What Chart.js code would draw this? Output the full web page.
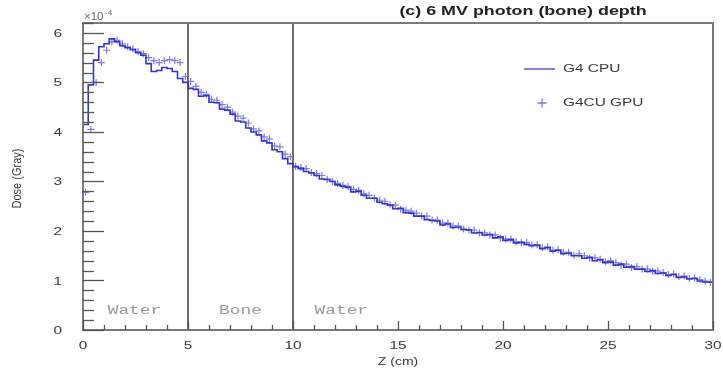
<!DOCTYPE html>
<html lang="en">
<head>
  <meta charset="UTF-8" />
  <title>6 MV photon (bone) depth dose</title>
  <script src="https://cdn.jsdelivr.net/npm/chart.js"></script>
  <style>
    html, body { margin: 0; padding: 0; background: #fff; }
    #wrap { width: 723px; height: 370px; }
  </style>
</head>
<body>
  <div id="wrap"><canvas id="doseChart" width="723" height="370"></canvas></div>

  <script>
    // depth bins (cm) and dose in units of 1e-4 Gy
    const binWidth = 0.25;
    const slabEdges = [5, 10];
    const slabNames = ['Water', 'Bone', 'Water'];
    const slabLabelZ = [2.45, 7.5, 12.3];
    const xTicks = [0, 5, 10, 15, 20, 25, 30];
    const yTicks = [0, 1, 2, 3, 4, 5, 6];

    const cpuDose = [
      2.75, 4.15, 4.95, 5.45, 5.72, 5.78, 5.88, 5.82, 5.74, 5.70, 5.66, 5.60, 5.55, 5.38, 5.22, 5.24, 5.30, 5.28, 5.22, 5.08,
      5.00, 4.88, 4.86, 4.72, 4.73, 4.60, 4.59, 4.46, 4.44, 4.36, 4.22, 4.20, 4.08, 4.00, 3.94, 3.82, 3.78, 3.64, 3.60, 3.46,
      3.36, 3.30, 3.26, 3.20, 3.17, 3.12, 3.05, 3.04, 3.00, 2.93, 2.90, 2.88, 2.79, 2.80, 2.72, 2.66, 2.66, 2.58, 2.55, 2.52,
      2.45, 2.46, 2.37, 2.36, 2.30, 2.30, 2.23, 2.21, 2.20, 2.12, 2.14, 2.07, 2.08, 2.03, 2.02, 1.96, 1.97, 1.92, 1.93, 1.86,
      1.88, 1.81, 1.82, 1.76, 1.77, 1.73, 1.70, 1.71, 1.64, 1.66, 1.59, 1.61, 1.54, 1.55, 1.50, 1.50, 1.45, 1.47, 1.40, 1.42,
      1.36, 1.37, 1.31, 1.33, 1.27, 1.28, 1.23, 1.23, 1.18, 1.20, 1.14, 1.15, 1.10, 1.12, 1.06, 1.07, 1.03, 1.04, 0.99, 0.97
    ];
    const gpuDose = [
      2.78, 4.05, 5.00, 5.40, 5.65, 5.82, 5.85, 5.78, 5.72, 5.68, 5.62, 5.58, 5.50, 5.44, 5.40, 5.44, 5.46, 5.44, 5.40, 5.12,
      5.02, 4.92, 4.80, 4.76, 4.66, 4.64, 4.55, 4.50, 4.40, 4.32, 4.28, 4.18, 4.06, 4.02, 3.90, 3.86, 3.72, 3.70, 3.55, 3.50,
      3.30, 3.28, 3.26, 3.18, 3.16, 3.12, 3.04, 3.00, 2.96, 2.92, 2.90, 2.84, 2.82, 2.75, 2.72, 2.66, 2.62, 2.60, 2.53, 2.52,
      2.44, 2.42, 2.40, 2.36, 2.30, 2.30, 2.22, 2.22, 2.16, 2.16, 2.10, 2.10, 2.04, 2.02, 2.02, 1.96, 1.96, 1.92, 1.92, 1.86,
      1.84, 1.84, 1.78, 1.76, 1.77, 1.72, 1.72, 1.66, 1.68, 1.61, 1.62, 1.57, 1.57, 1.51, 1.54, 1.50, 1.45, 1.46, 1.43, 1.38,
      1.40, 1.36, 1.31, 1.33, 1.26, 1.28, 1.23, 1.23, 1.18, 1.19, 1.16, 1.12, 1.13, 1.08, 1.09, 1.04, 1.05, 1.02, 0.99, 0.96
    ];

    const cpuPoints = cpuDose.map((d, i) => ({ x: i * binWidth, y: d }));
    cpuPoints.push({ x: cpuDose.length * binWidth, y: cpuDose[cpuDose.length - 1] });
    const gpuPoints = gpuDose.map((d, i) => ({ x: (i + 0.5) * binWidth, y: d }));

    const sans = '"Liberation Sans", Arial, sans-serif';
    const textColor = '#3a3a3a';
    const stretch = 1.4; // the original figure is widened horizontally

    function wideText(ctx, text, x, y, align, sx) {
      ctx.save();
      ctx.translate(x, y);
      ctx.scale(sx, 1);
      ctx.textAlign = align;
      ctx.fillText(text, 0, 0);
      ctx.restore();
    }

    // ROOT-like decorations: frame, inside ticks, slab lines, labels, legend
    const rootStyle = {
      id: 'rootStyle',
      beforeDatasetsDraw(chart) {
        const { ctx, chartArea: a, scales: { x } } = chart;
        ctx.save();
        ctx.strokeStyle = '#6e6e6e';
        ctx.lineWidth = 2;
        slabEdges.forEach(z => {
          const px = Math.round(x.getPixelForValue(z));
          ctx.beginPath();
          ctx.moveTo(px, a.top);
          ctx.lineTo(px, a.bottom);
          ctx.stroke();
        });
        ctx.fillStyle = '#9a9a9a';
        ctx.font = '13px "Liberation Mono", "DejaVu Sans Mono", monospace';
        ctx.textBaseline = 'middle';
        slabNames.forEach((n, i) => {
          wideText(ctx, n, x.getPixelForValue(slabLabelZ[i]), a.bottom - 19, 'center', 1.37);
        });
        ctx.restore();
      },
      afterDraw(chart) {
        const { ctx, chartArea: a, scales: { x, y } } = chart;
        ctx.save();
        // frame
        ctx.strokeStyle = '#7a7a7a';
        ctx.lineWidth = 2;
        ctx.strokeRect(a.left, a.top, a.right - a.left, a.bottom - a.top);

        // y ticks (inside)
        ctx.lineWidth = 1.3;
        ctx.strokeStyle = '#555';
        for (let v = 0; v <= 6.2 + 1e-9; v += 0.2) {
          const py = Math.round(y.getPixelForValue(v)) + 0.5;
          const major = Math.abs(v - Math.round(v)) < 1e-6;
          ctx.beginPath();
          ctx.moveTo(a.left, py);
          ctx.lineTo(a.left + (major ? 21 : 11), py);
          ctx.stroke();
        }
        // x ticks (inside)
        for (let v = 0; v <= 30; v += 1) {
          const px = Math.round(x.getPixelForValue(v)) + 0.5;
          const major = v % 5 === 0;
          ctx.beginPath();
          ctx.moveTo(px, a.bottom);
          ctx.lineTo(px, a.bottom - (major ? 9 : 5));
          ctx.stroke();
        }

        // tick labels
        ctx.fillStyle = textColor;
        ctx.font = '11px ' + sans;
        ctx.textBaseline = 'middle';
        yTicks.forEach(v => wideText(ctx, String(v), 62, y.getPixelForValue(v) + 1, 'right', stretch));
        xTicks.forEach(v => wideText(ctx, String(v), x.getPixelForValue(v), 346, 'center', stretch));

        // axis titles
        ctx.font = '10px ' + sans;
        wideText(ctx, 'Z (cm)', x.getPixelForValue(15), 362, 'center', stretch);
        ctx.save();
        ctx.font = '11px ' + sans;
        ctx.translate(18, (a.top + a.bottom) / 2 + 2);
        ctx.scale(1.15, 1);
        ctx.rotate(-Math.PI / 2);
        ctx.textAlign = 'center';
        ctx.fillText('Dose (Gray)', 0, 0);
        ctx.restore();

        // exponent
        ctx.fillStyle = '#666';
        ctx.textBaseline = 'alphabetic';
        ctx.font = '10px ' + sans;
        wideText(ctx, '\u00d710', a.left + 1, a.top - 3, 'left', 1.15);
        ctx.font = '7px ' + sans;
        wideText(ctx, '-4', a.left + 22, a.top - 8, 'left', 1.15);

        // title
        ctx.fillStyle = '#222';
        ctx.font = 'bold 12.5px ' + sans;
        ctx.textBaseline = 'middle';
        wideText(ctx, '(c) 6 MV photon (bone) depth', 523, 12, 'center', 1.43);

        // legend
        ctx.strokeStyle = '#6565d8';
        ctx.lineWidth = 1.6;
        ctx.beginPath();
        ctx.moveTo(524, 69);
        ctx.lineTo(555, 69);
        ctx.stroke();
        ctx.strokeStyle = '#7a7ae6';
        ctx.lineWidth = 1.3;
        ctx.beginPath();
        ctx.moveTo(537.5, 103); ctx.lineTo(546.5, 103);
        ctx.moveTo(542, 98.5); ctx.lineTo(542, 107.5);
        ctx.stroke();
        ctx.fillStyle = textColor;
        ctx.font = '11px ' + sans;
        wideText(ctx, 'G4 CPU', 563, 69, 'left', stretch);
        wideText(ctx, 'G4CU GPU', 563, 103, 'left', stretch);
        ctx.restore();
      }
    };

    new Chart(document.getElementById('doseChart'), {
      type: 'line',
      data: {
        datasets: [
          {
            label: 'G4 CPU',
            data: cpuPoints,
            stepped: 'after',
            borderColor: '#3535c8',
            borderWidth: 1.6,
            pointRadius: 0,
            fill: false
          },
          {
            label: 'G4CU GPU',
            data: gpuPoints,
            showLine: false,
            pointStyle: 'cross',
            pointRadius: 3.5,
            borderColor: 'rgba(100,100,230,0.85)',
            borderWidth: 1.2
          }
        ]
      },
      options: {
        responsive: false,
        animation: false,
        layout: { padding: { top: 23, right: 10, left: 0, bottom: 0 } },
        plugins: {
          legend: { display: false },
          tooltip: { enabled: false }
        },
        scales: {
          x: {
            type: 'linear',
            min: 0,
            max: 30,
            afterFit: s => { s.height = 40; },
            afterBuildTicks: s => { s.ticks = xTicks.map(v => ({ value: v })); },
            grid: { display: false, drawTicks: false },
            border: { display: false },
            ticks: { display: false }
          },
          y: {
            min: 0,
            max: 6.2,
            afterFit: s => { s.width = 83; },
            afterBuildTicks: s => { s.ticks = yTicks.map(v => ({ value: v })); },
            grid: { display: false, drawTicks: false },
            border: { display: false },
            ticks: { display: false }
          }
        }
      },
      plugins: [rootStyle]
    });
  </script>
</body>
</html>
